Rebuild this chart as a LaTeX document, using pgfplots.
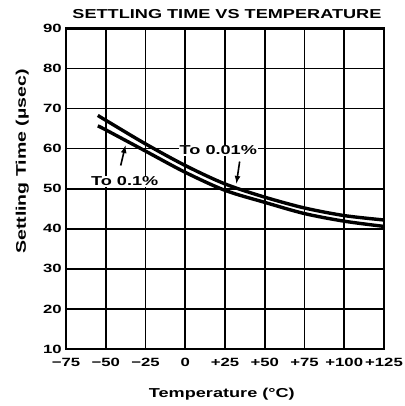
\documentclass[border=0pt]{standalone}
\usepackage{fontspec}
\setmainfont{Liberation Sans}[FakeStretch=1.4]
\usepackage{pgfplots}
\pgfplotsset{compat=1.18}
\begin{document}
\begin{tikzpicture}
\begin{axis}[
  name=ax,
  scale only axis,
  width=318bp, height=320.5bp,
  xmin=-75, xmax=125, ymin=10, ymax=90,
  xtick={-75,-50,-25,0,25,50,75,100,125},
  xticklabels={−75,−50,−25,0,+25,+50,+75,+100,+125},
  ytick={10,20,...,90},
  grid=major,
  major grid style={black, line width=1.6bp},
  axis line style={black, line width=2.2bp},
  major tick length=0pt,
  /pgf/number format/assume math mode=true,
  tick label style={font=\bfseries\fontsize{12}{12}\selectfont, inner sep=0pt},
  xticklabel style={anchor=north, yshift=-9bp},
  yticklabel style={anchor=east, xshift=-4bp},
  title={SETTLING TIME VS TEMPERATURE},
  title style={font=\bfseries\fontsize{13}{14}\selectfont, at={(axis description cs:0.506,1)}, anchor=base, yshift=4bp, inner sep=0pt},
  xlabel={Temperature (°C)},
  xlabel style={font=\bfseries\fontsize{13}{14}\selectfont, at={(axis description cs:0.49,0)}, anchor=base, yshift=-48bp, inner sep=0pt},
  ylabel={Settling Time (µsec)},
  ylabel style={font=\bfseries\fontsize{14}{14}\selectfont, at={(axis description cs:-0.126,0.585)}, anchor=base, rotate=0, inner sep=0pt},
  clip=false,
]
\addplot[black, line width=3.4bp, smooth, tension=0.5] coordinates {
  (-55,68.3) (-50,67.1) (-25,61.2) (0,55.8) (25,51.2) (50,47.9) (75,45.2) (100,43.3) (125,42.2)
};
\addplot[black, line width=3.4bp, smooth, tension=0.5] coordinates {
  (-55,65.7) (-50,64.7) (-25,59.4) (0,54.1) (25,49.6) (50,46.6) (75,43.8) (100,41.9) (125,40.6)
};
\node[fill=white, inner sep=1bp, font=\bfseries\fontsize{13}{14}\selectfont] at (axis cs:20.8,59.6) {To 0.01\%};
\node[fill=white, inner sep=1bp, font=\bfseries\fontsize{13}{14}\selectfont] at (axis cs:-38.1,51.9) {To 0.1\%};
\draw[black, line width=1.6bp, -latex] (axis cs:34.2,56.8) -- (axis cs:32.2,51.3);
\draw[black, line width=1.6bp, -latex] (axis cs:-40.6,55.8) -- (axis cs:-37.6,60.8);
\end{axis}
\pgfresetboundingbox
\path[use as bounding box] ([xshift=-66bp,yshift=-57bp]ax.south west) rectangle ([xshift=20bp,yshift=28.5bp]ax.north east);
\end{tikzpicture}
\end{document}
